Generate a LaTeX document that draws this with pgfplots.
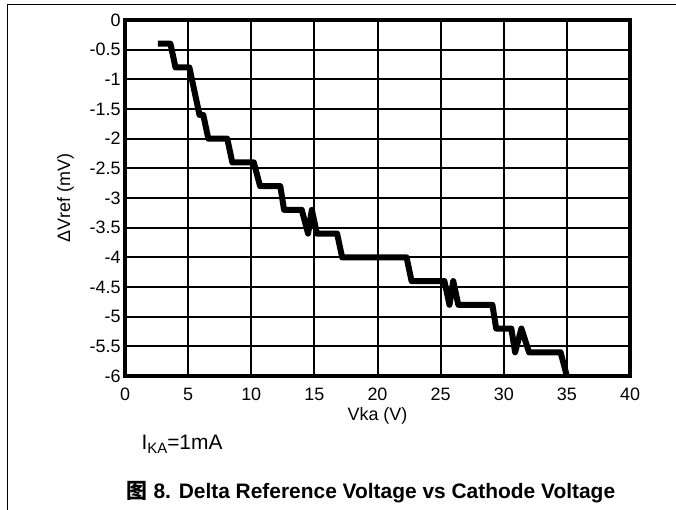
\documentclass[border=0pt]{standalone}
\usepackage{fontspec}
\setmainfont{Liberation Sans}
\newfontfamily\cjk{Noto Sans CJK SC}
\usepackage{pgfplots}
\pgfplotsset{compat=1.18}
\begin{document}
\begin{tikzpicture}
\path[use as bounding box] (0,0) rectangle (676bp,510bp);
% page frame, top and left only
\draw[line width=1bp] (7bp,0) -- (7bp,505bp) -- (676bp,505bp);
\begin{axis}[
at={(125bp,134bp)}, anchor=south west,
scale only axis,
width=505bp, height=356bp,
xmin=0, xmax=40, ymin=-6, ymax=0,
xtick={0,5,...,40},
xticklabels={0,5,10,15,20,25,30,35,40},
ytick={-6,-5.5,...,0},
yticklabels={-6,-5.5,-5,-4.5,-4,-3.5,-3,-2.5,-2,-1.5,-1,-0.5,0},
major tick length=0pt,
grid=major,
major grid style={black, line width=2bp},
axis line style={line width=4bp},
/pgf/number format/assume math mode=true,
tick label style={font=\fontsize{18}{18}\selectfont},
xticklabel style={anchor=north, text height=13bp, text depth=0bp, yshift=-8bp},
yticklabel style={xshift=-1bp},
xlabel={Vka (V)},
ylabel={ΔVref (mV)},
label style={font=\fontsize{18}{18}\selectfont},
xlabel style={at={(axis description cs:0.5,-0.112)}, anchor=center},
ylabel style={at={(axis description cs:-0.118,0.5)}, anchor=center},
]
\addplot[black, line width=6bp, line join=round] coordinates {
(2.6,-0.4) (3.6,-0.4) (4.0,-0.8) (5.1,-0.8) (5.9,-1.6) (6.2,-1.6)
(6.6,-2.0) (8.1,-2.0) (8.5,-2.4) (10.2,-2.4) (10.7,-2.8) (12.3,-2.8)
(12.6,-3.2) (14.0,-3.2) (14.5,-3.6) (14.8,-3.2) (15.2,-3.6) (16.8,-3.6)
(17.2,-4.0) (22.3,-4.0) (22.7,-4.4) (25.3,-4.4) (25.7,-4.8) (26.0,-4.4)
(26.4,-4.8) (29.1,-4.8) (29.4,-5.2) (30.6,-5.2) (30.9,-5.6) (31.4,-5.2)
(32.0,-5.6) (34.5,-5.6) (35.0,-6.0)
};
\end{axis}
\node[anchor=base west, font=\fontsize{21}{21}\selectfont] at (138bp,60bp)
  {I\raisebox{-0.35ex}{\fontsize{15}{15}\selectfont KA}=1mA};
\node[anchor=base, font=\fontsize{21}{21}\selectfont\bfseries] at (371bp,12bp)
  {{\cjk 图} 8. Delta Reference Voltage vs Cathode Voltage};
\end{tikzpicture}
\end{document}
